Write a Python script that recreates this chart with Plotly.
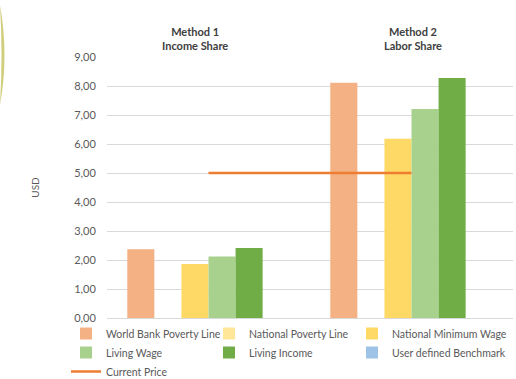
import plotly.graph_objects as go

categories = ["Method 1<br>Income Share", "Method 2<br>Labor Share"]
world_bank = [2.37, 8.11]
national_poverty = [0, 0]
national_min_wage = [1.86, 6.18]
living_wage = [2.12, 7.21]
living_income = [2.41, 8.28]
user_benchmark = [0, 0]
current_price = [5.0, 5.0]
y_ticks = [0, 1, 2, 3, 4, 5, 6, 7, 8, 9]

FONT = "Lato, 'Open Sans', sans-serif"
GRAY = "#595959"

fig = go.Figure()
# (name, values, colour, legend column)
series = [
    ("World Bank Poverty Line", world_bank, "#F4B183", "legend"),
    ("National Poverty Line", national_poverty, "#FFE699", "legend2"),
    ("National Minimum Wage", national_min_wage, "#FFD966", "legend3"),
    ("Living Wage", living_wage, "#A9D18E", "legend"),
    ("Living Income", living_income, "#70AD47", "legend2"),
    ("User defined Benchmark", user_benchmark, "#9DC3E6", "legend3"),
]
for name, vals, col, lg in series:
    fig.add_trace(go.Bar(x=categories, y=vals, name=name, marker_color=col,
                         marker_line_width=0, legend=lg))
fig.add_trace(go.Scatter(x=categories, y=current_price, name="Current Price",
                         mode="lines", line=dict(color="#ED7D31", width=2.5),
                         legend="legend"))

W, H = 516, 379
L, R, T, B = 107, 3, 57, 61
pw, ph = W - L - R, H - T - B

def px(x):
    return (x - L) / pw

def py(y):
    return (H - B - y) / ph

# decorative crescent at left edge
path = (f"M {px(0)},{py(5)} Q {px(9)},{py(55)} {px(0)},{py(105)} "
        f"Q {px(3)},{py(55)} {px(0)},{py(5)} Z")
fig.add_shape(type="path", path=path, xref="paper", yref="paper",
              fillcolor="#CFCE7C", line_width=0, layer="above")

for i, cat in enumerate(categories):
    fig.add_annotation(x=cat, y=py(23), xref="x", yref="paper",
                       text=f"<b>{cat}</b>", showarrow=False,
                       xshift=-14 if i == 0 else 1,
                       font=dict(family=FONT, size=11, color="#404040"))

def legend_at(xpix):
    return dict(orientation="v", x=px(xpix), xanchor="left", y=py(319),
                yanchor="top", traceorder="normal", itemwidth=30,
                font=dict(family=FONT, size=10.5, color=GRAY),
                bgcolor="rgba(0,0,0,0)", tracegroupgap=0)

fig.update_layout(
    width=W, height=H,
    margin=dict(l=L, r=R, t=T, b=B, autoexpand=False),
    paper_bgcolor="white", plot_bgcolor="white",
    barmode="group", bargap=0.2, bargroupgap=0,
    separators=",.",
    font=dict(family=FONT, size=11, color=GRAY),
    showlegend=True,
    legend=legend_at(66),
    legend2=legend_at(209),
    legend3=legend_at(352),
)
fig.update_xaxes(showticklabels=False, showgrid=False, showline=False, zeroline=False)
fig.update_yaxes(range=[0, 9], tickvals=y_ticks, tickformat=".2f",
                 gridcolor="#D9D9D9", gridwidth=1, zeroline=True,
                 zerolinecolor="#D9D9D9", zerolinewidth=1, showline=False,
                 ticks="outside", ticklen=8, tickcolor="rgba(0,0,0,0)",
                 tickfont=dict(family=FONT, size=11, color=GRAY),
                 title=dict(text="USD", standoff=32,
                            font=dict(family=FONT, size=10, color=GRAY)))

fig.write_html("out.html")
